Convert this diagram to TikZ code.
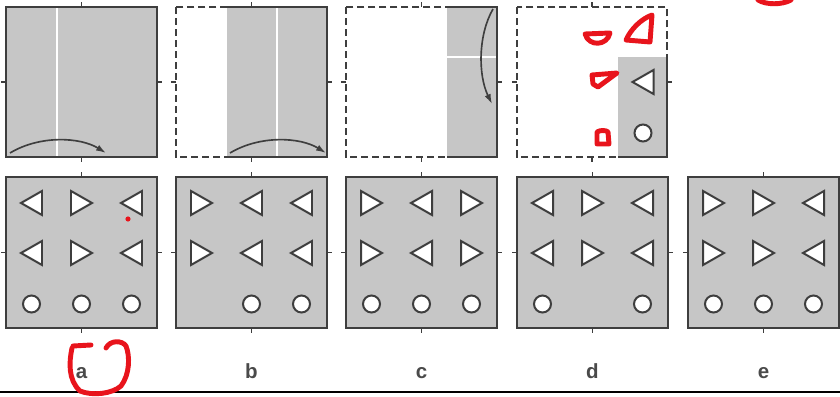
\documentclass[tikz,border=0pt]{standalone}
\usepackage{fontspec}
\setmainfont{Liberation Sans}
\usetikzlibrary{arrows.meta}
\definecolor{edgegray}{HTML}{3E3E3E}
\definecolor{paper}{HTML}{C6C6C6}
\definecolor{ink}{HTML}{4A4A4A}
\definecolor{marker}{HTML}{E8141C}
\tikzset{
  frame/.style={draw=edgegray, line width=1.9pt, line join=miter},
  dashframe/.style={draw=edgegray, line width=1.8pt, dash pattern=on 6pt off 3.4pt},
  fold/.style={draw=white, line width=1.3pt},
  turn/.style={draw=edgegray, line width=1.4pt, -{Latex[length=8.5pt,width=5.5pt]}},
  shapeline/.style={draw=edgegray, line width=1.7pt, fill=white, line join=miter},
  tickline/.style={draw=edgegray, line width=1.3pt},
  scribble/.style={draw=marker, line width=4.2pt, line cap=round, line join=round},
  lbl/.style={text=ink, font=\fontsize{17.5}{20}\selectfont\bfseries, anchor=base, inner sep=0pt},
  floorline/.style={draw=black, line width=1.7pt},
  pics/tri/.style={code={\path[shapeline] (-10.5,0) -- (10.5,-12) -- (10.5,12) -- cycle;}},
  pics/ring/.style={code={\path[shapeline] (0,0) circle[radius=8.5];}},
}
\newcommand\edgeticks[4]{%
  \draw[tickline] ({(#1+#3)/2},#2) -- ++(0,-5);
  \draw[tickline] ({(#1+#3)/2},#4) -- ++(0,5);
  \draw[tickline] (#1,{(#2+#4)/2}) -- ++(-5,0);
  \draw[tickline] (#3,{(#2+#4)/2}) -- ++(5,0);}
\begin{document}
\begin{tikzpicture}[x=0.03cm,y=-0.03cm]
\useasboundingbox (0,0) rectangle (840,397);
\fill[white] (0,0) rectangle (840,397);

% ---------- top row ----------
% panel 1
\fill[paper] (6,7) rectangle (157,157);
\draw[fold] (57,7) -- (57,157);
\draw[frame] (6,7) rectangle (157,157);
\coordinate (a1) at (10,153); \coordinate (a2) at (106,153);
\draw[turn] (a1) .. controls (40,135) and (80,137) .. (a2);
\edgeticks{6}{7}{157}{157}

% panel 2
\draw[dashframe] (176,7) rectangle (327,157);
\fill[paper] (227,7) rectangle (327,157);
\draw[fold] (277,7) -- (277,157);
\draw[frame] (227,7) -- (327,7) -- (327,157) -- (227,157);
\coordinate (b1) at (230,153); \coordinate (b2) at (326,153);
\draw[turn] (b1) .. controls (260,135) and (300,137) .. (b2);
\edgeticks{176}{7}{327}{157}

% panel 3
\draw[dashframe] (346,7) rectangle (497,157);
\fill[paper] (447,7) rectangle (497,157);
\draw[fold] (447,57) -- (497,57);
\draw[frame] (447,7) -- (497,7) -- (497,157) -- (447,157);
\coordinate (c1) at (493,9); \coordinate (c2) at (492,104);
\draw[turn] (c1) .. controls (478,35) and (478,75) .. (c2);
\edgeticks{346}{7}{497}{157}

% panel 4
\draw[dashframe] (517,7) rectangle (667,157);
\fill[paper] (618,57) rectangle (667,157);
\draw[frame] (667,57) -- (667,157) -- (618,157);
\pic at (643,82) {tri};
\pic at (643,133) {ring};
\edgeticks{517}{7}{667}{157}

% ---------- bottom row ----------
\foreach \x/\sa/\sb/\sc/\p/\q/\r in {6/1/-1/1/1/1/1, 176/-1/1/1/0/1/1, 346/-1/1/-1/1/1/1, 517/1/-1/1/1/0/1, 688/-1/-1/1/1/1/1}{
  \path[frame, fill=paper] (\x,177) rectangle ++(151,151);
  \edgeticks{\x}{177}{\x+151}{328}
  \foreach \yy in {203,253}{
    \pic[xscale=\sa] at (\x+25.5,\yy) {tri};
    \pic[xscale=\sb] at (\x+75.5,\yy) {tri};
    \pic[xscale=\sc] at (\x+125.5,\yy) {tri};
  }
  \ifnum\p=1 \pic at (\x+25.5,304) {ring};\fi
  \ifnum\q=1 \pic at (\x+75.5,304) {ring};\fi
  \ifnum\r=1 \pic at (\x+125.5,304) {ring};\fi
}

% ---------- labels ----------
\node[lbl] (la) at (81.5,378) {a};
\node[lbl] (lb) at (251.5,378) {b};
\node[lbl] (lc) at (421.5,378) {c};
\node[lbl] (ld) at (592.5,378) {d};
\node[lbl] (le) at (763.5,378) {e};

\coordinate (ruleL) at (0,392);
\coordinate (ruleR) at (840,392);
\draw[floorline] (ruleL) -- (ruleR);

% ---------- red annotations ----------
\draw[scribble] (73,346) -- (91,345);
\draw[scribble] (72,348) .. controls (69,362) and (68,380) .. (80,391)
  .. controls (92,396) and (112,394) .. (121,386)
  .. controls (130,374) and (130,356) .. (126,346)
  .. controls (122,340) and (110,340) .. (106,348);
\fill[marker] (128,219) circle[radius=2.6];

\draw[scribble] (585,34) -- (610,33) .. controls (607,46) and (589,47) .. cycle;
\draw[scribble] (626,40) -- (650,42) -- (652,15) .. controls (641,19) and (631,29) .. cycle;
\draw[scribble] (592,75) -- (617,73) -- (598,87) -- (593,84) -- cycle;
\draw[scribble] (597,132) .. controls (600,130) and (606,130) .. (608,132) -- (609,144) -- (597,144) -- cycle;

\draw[scribble] (758,0) .. controls (766,5) and (782,5) .. (791,0);
\end{tikzpicture}
\end{document}
